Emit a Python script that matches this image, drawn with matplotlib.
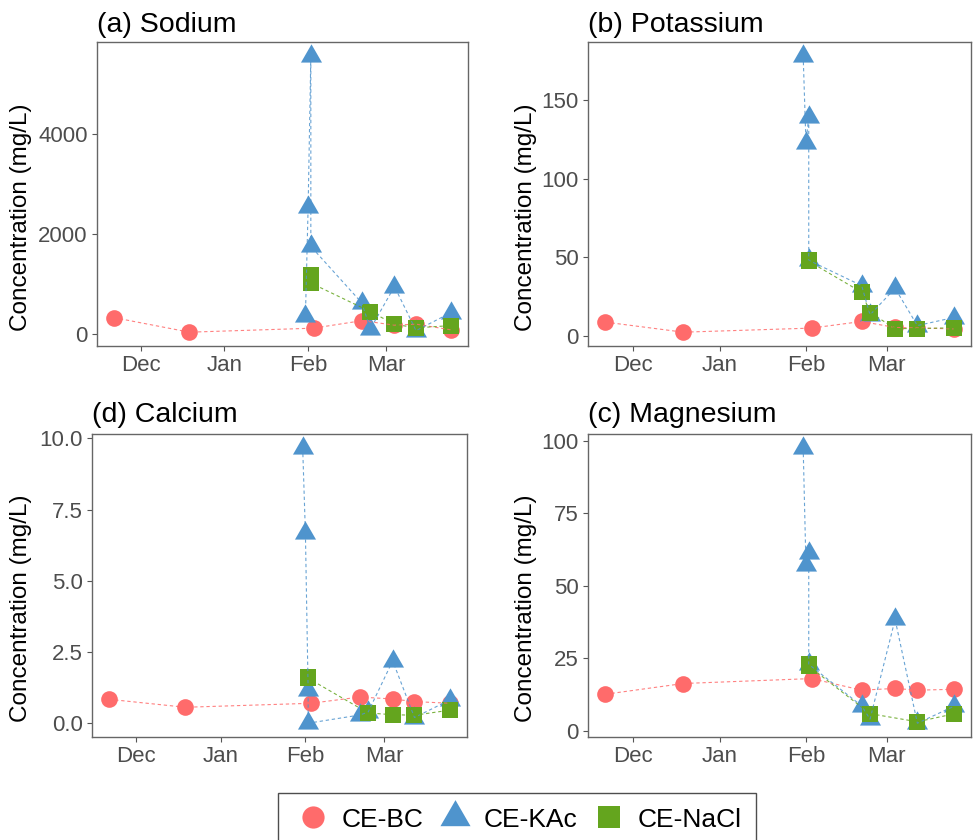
import numpy as np
import matplotlib
matplotlib.use("Agg")
import matplotlib.pyplot as plt
import matplotlib.dates as mdates
from matplotlib.path import Path
from matplotlib.lines import Line2D
from datetime import datetime

plt.rcParams['font.family'] = ['Liberation Sans', 'DejaVu Sans']

# ---- sampling dates for each treatment ----
BC_DATES = ["2019-11-21", "2019-12-19", "2020-02-03", "2020-02-21",
            "2020-03-04", "2020-03-12", "2020-03-25"]
KAC_DATES = ["2020-01-31", "2020-02-01", "2020-02-02", "2020-02-02", "2020-02-21",
             "2020-02-24", "2020-03-04", "2020-03-12", "2020-03-25"]
NACL_DATES = ["2020-02-02", "2020-02-02", "2020-02-21", "2020-02-24",
              "2020-03-04", "2020-03-12", "2020-03-25"]

# ---- concentrations (mg/L) ----
SODIUM_BC = [331, 40, 120, 270, 180, 200, 86]
SODIUM_KAC = [370, 2540, 5550, 1750, 618, 100, 950, 72, 431]
SODIUM_NACL = [1180, 1020, np.nan, 451, 199, 126, 172]

POTASSIUM_BC = [8.7, 2.3, 4.9, 9.1, 5.3, 5.0, 4.4]
POTASSIUM_KAC = [178, 122.5, 139.4, 48, 31.9, 13.3, 30.2, 6.5, 11.6]
POTASSIUM_NACL = [48.0, 47.4, 27.7, 14.8, 4.6, 4.6, 5.1]

CALCIUM_BC = [0.84, 0.56, 0.70, 0.92, 0.85, 0.76, 0.70]
CALCIUM_KAC = [9.67, 6.67, 1.15, 0.0, 0.29, 0.39, 2.19, 0.20, 0.82]
CALCIUM_NACL = [1.61, 1.58, np.nan, 0.36, 0.30, 0.28, 0.46]

MAGNESIUM_BC = [12.6, 16.3, 18.0, 14.0, 14.6, 14.0, 14.3]
MAGNESIUM_KAC = [97.6, 57.1, 61.3, 22.9, 8.6, 4.0, 38.4, 2.6, 8.4]
MAGNESIUM_NACL = [22.9, 22.3, np.nan, 5.9, np.nan, 3.1, 5.8]

TREATMENTS = ["CE-BC", "CE-KAc", "CE-NaCl"]
RED, BLUE, GREEN = "#FF6B6B", "#4F94CD", "#64A51E"

# equilateral triangle centred on its centroid
TRI = Path([(0, 1.555), (1.347, -0.778), (-1.347, -0.778), (0, 1.555)],
           [Path.MOVETO, Path.LINETO, Path.LINETO, Path.CLOSEPOLY])


def to_dates(strs):
    return np.array([datetime.strptime(s, "%Y-%m-%d") for s in strs])


W, H = 975, 840
fig = plt.figure(figsize=(W / 100, H / 100), dpi=100)


def px_axes(l, t, r, b):
    return fig.add_axes([l / W, 1 - b / H, (r - l) / W, (b - t) / H])


def draw_panel(ax, title, tx, ty, bc, kac, nacl, yticks, fmt, ylab_x):
    series = [
        (to_dates(BC_DATES), np.array(bc, float), RED, 'o', 12, 3.0),
        (to_dates(KAC_DATES), np.array(kac, float), BLUE, TRI, 17.5, 3.1),
        (to_dates(NACL_DATES), np.array(nacl, float), GREEN, 's', 12, 3.2),
    ]
    for d, v, c, m, ms, z in series:
        ok = ~np.isnan(v)
        ax.plot(d[ok], v[ok], ls='none', marker=m, ms=ms, color=c, mew=0, zorder=z)
    for d, v, c, m, ms, z in series:
        ok = ~np.isnan(v)
        ax.plot(d[ok], v[ok], ls=(0, (3, 2.5)), lw=0.8, color=c, alpha=0.85, zorder=4)

    ax.xaxis.set_major_locator(mdates.MonthLocator(bymonth=[12, 1, 2, 3]))
    ax.xaxis.set_major_formatter(mdates.DateFormatter('%b'))
    ax.set_yticks(yticks)
    ax.set_yticklabels([fmt.format(t) for t in yticks])
    ax.tick_params(direction='out', length=3.8, width=0.8, color='#555555',
                   labelcolor='#4D4D4D', labelsize=16, pad=3)
    for sp in ax.spines.values():
        sp.set_color('#666666')
        sp.set_linewidth(1.0)
    ax.set_ylabel("Concentration (mg/L)", fontsize=17.5, color='black')
    ax.yaxis.set_label_coords(ylab_x, 0.425)
    fig.text(tx / W, 1 - ty / H, title, fontsize=20.5, color='black',
             ha='left', va='baseline')


ax_a = px_axes(97, 42, 468, 346)
draw_panel(ax_a, "(a) Sodium", 97, 32, SODIUM_BC, SODIUM_KAC, SODIUM_NACL,
           [0, 2000, 4000], "{:.0f}", -0.175)

ax_b = px_axes(588, 42, 971, 346)
draw_panel(ax_b, "(b) Potassium", 588, 32, POTASSIUM_BC, POTASSIUM_KAC, POTASSIUM_NACL,
           [0, 50, 100, 150], "{:.0f}", -0.133)

ax_d = px_axes(92, 434, 467, 737)
draw_panel(ax_d, "(d) Calcium", 92, 422, CALCIUM_BC, CALCIUM_KAC, CALCIUM_NACL,
           [0.0, 2.5, 5.0, 7.5, 10.0], "{:.1f}", -0.16)

ax_c = px_axes(588, 434, 971, 737)
draw_panel(ax_c, "(c) Magnesium", 588, 422, MAGNESIUM_BC, MAGNESIUM_KAC, MAGNESIUM_NACL,
           [0, 25, 50, 75, 100], "{:.0f}", -0.133)

handles = [
    Line2D([], [], ls='none', marker='o', ms=16, color=RED, mew=0),
    Line2D([], [], ls='none', marker=TRI, ms=25, color=BLUE, mew=0),
    Line2D([], [], ls='none', marker='s', ms=16, color=GREEN, mew=0),
]
leg = fig.legend(handles, TREATMENTS, loc='upper center',
                 bbox_to_anchor=(517 / W, 1 - 793 / H), ncol=3, fontsize=19,
                 frameon=True, fancybox=False, borderpad=0.55, borderaxespad=0,
                 handlelength=1.56, handletextpad=0.32, columnspacing=0.4)
leg.get_frame().set_edgecolor('#222222')
leg.get_frame().set_linewidth(1.0)

fig.savefig("out.png", dpi=100)
